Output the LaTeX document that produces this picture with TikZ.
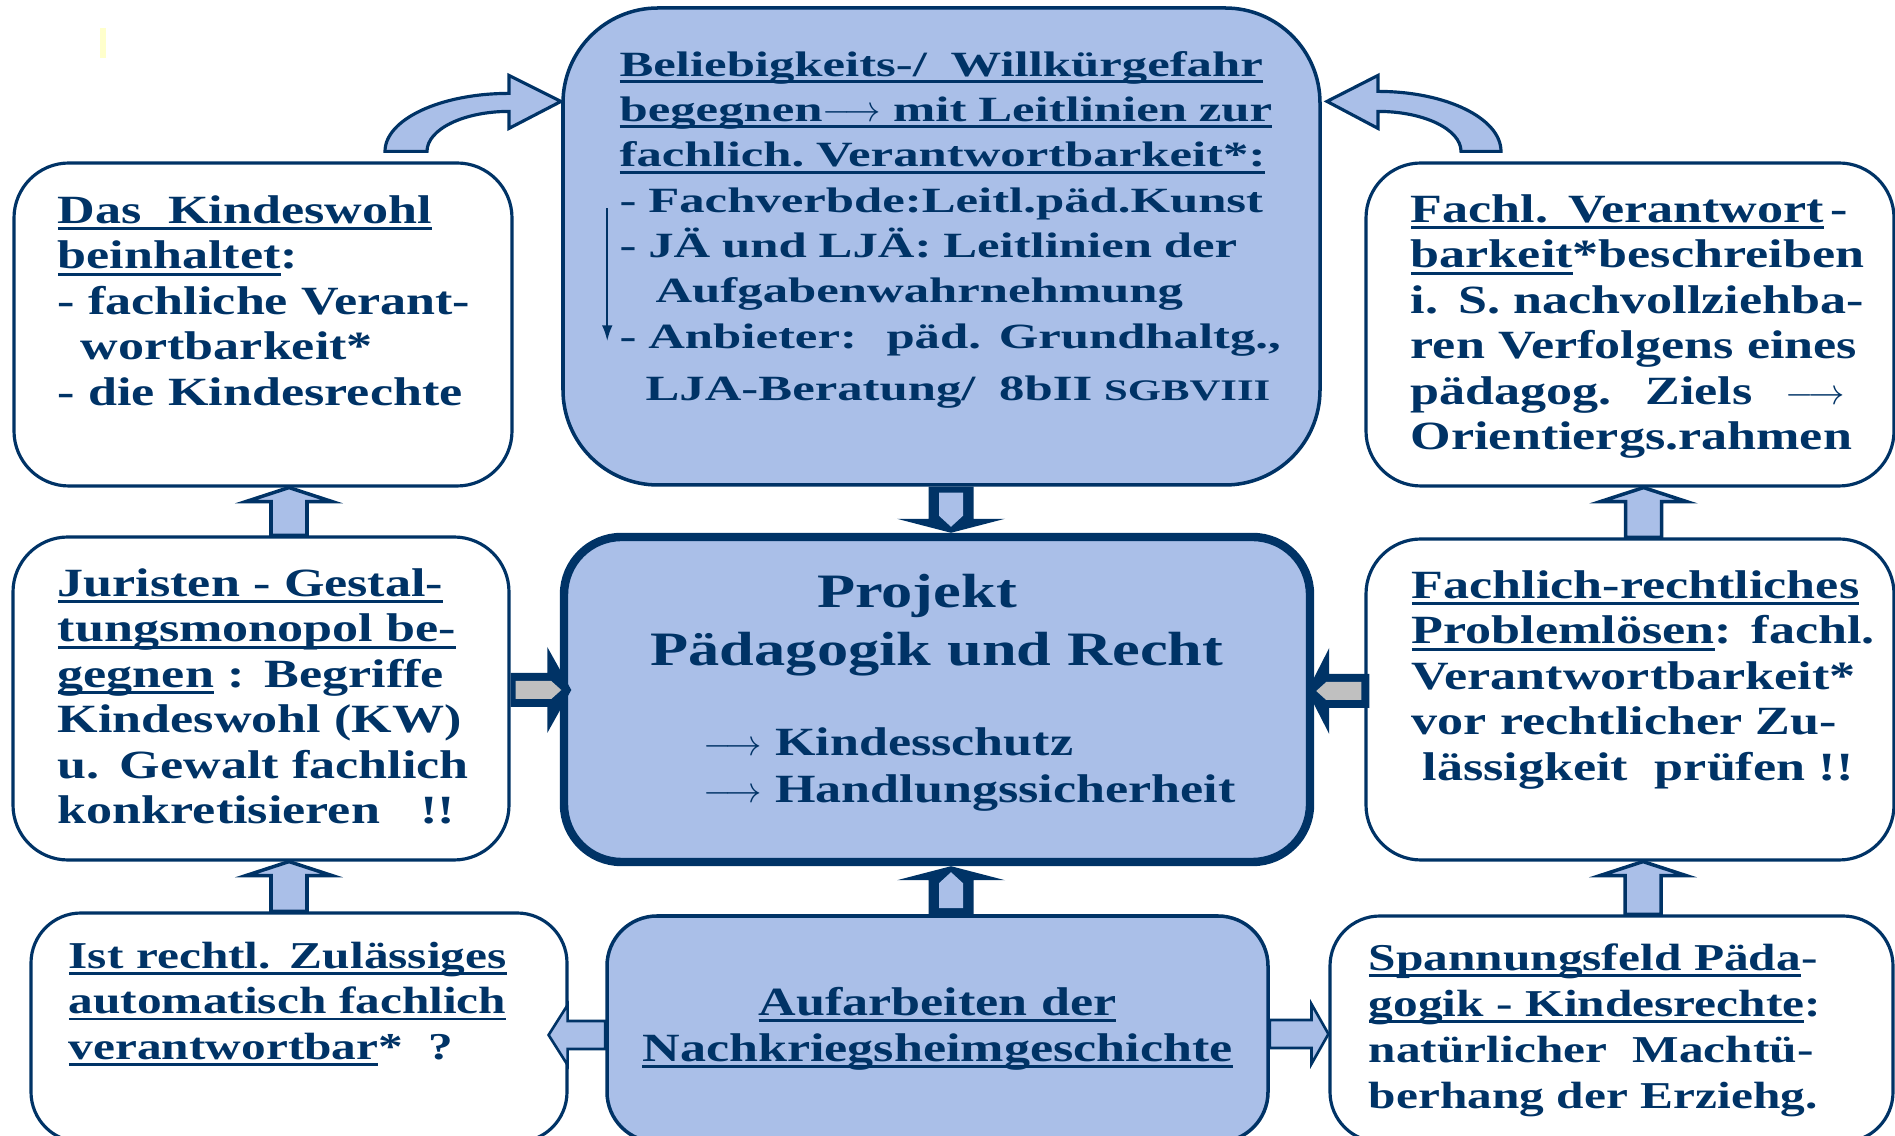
\documentclass[tikz,border=0pt]{standalone}
\usepackage{fontspec}
\setmainfont{Liberation Serif}[FakeStretch=1.3]
\newfontfamily\leitfont{Liberation Serif}[FakeStretch=1.43]
\usetikzlibrary{positioning,calc,arrows.meta}

\definecolor{darkblue}{RGB}{0,51,102}
\definecolor{paleblue}{RGB}{170,191,232}
\definecolor{arrowgray}{RGB}{192,192,192}
\definecolor{paleyellow}{RGB}{255,255,204}

% underline at a fixed depth below the baseline
\newsavebox{\ulnbox}
\newcommand{\uln}[1]{\leavevmode\sbox{\ulnbox}{#1}\rlap{\rule[-3.8pt]{\wd\ulnbox}{1.6pt}}\usebox{\ulnbox}}

% block arrows: style, tail, tip, half shaft, half head, head length
\newcommand{\vblock}[6]{%
  \path[#1] let \p1=(#2), \p2=(#3) in
    ({\x1-#4},\y1) -- ({\x1-#4},{\y2-(#6)}) -- ({\x1-#5},{\y2-(#6)}) -- (\x1,\y2)
    -- ({\x1+#5},{\y2-(#6)}) -- ({\x1+#4},{\y2-(#6)}) -- ({\x1+#4},\y1) -- cycle;}
\newcommand{\hblock}[6]{%
  \path[#1] let \p1=(#2), \p2=(#3) in
    (\x1,{\y1+#4}) -- ({\x2-(#6)},{\y1+#4}) -- ({\x2-(#6)},{\y1+#5}) -- (\x2,\y1)
    -- ({\x2-(#6)},{\y1-#5}) -- ({\x2-(#6)},{\y1-#4}) -- (\x1,{\y1-#4}) -- cycle;}

\begin{document}
\begin{tikzpicture}[
    box/.style={draw=darkblue, line width=1.8pt, fill=white, rounded corners=1.1cm},
    bluebox/.style={box, fill=paleblue},
    txt/.style={text=darkblue, inner sep=0pt, align=left, text width=12cm,
        font=\bfseries\fontsize{22.8}{25.9}\selectfont},
    sidearrow/.style={draw=darkblue, fill=paleblue, line width=2pt},
    darkpart/.style={fill=darkblue},
    graypart/.style={fill=arrowgray},
    bluepart/.style={fill=paleblue},
    lowarrow/.style={draw=darkblue, fill=paleblue, line width=1.5pt},
    bentarrow/.style={draw=darkblue, fill=paleblue, line width=1.8pt}
]
    \useasboundingbox (0,0) rectangle (37.9,22.72);
    \fill[paleyellow] (2.0,21.56) rectangle (2.12,22.16);

    % boxes
    \node[box, minimum width=9.96cm, minimum height=6.46cm] (kw) at (5.26,16.23) {};
    \node[bluebox, rounded corners=1.9cm, line width=2pt, minimum width=15.14cm, minimum height=9.54cm] (leit) at (18.83,17.79) {};
    \node[box, minimum width=10.56cm, minimum height=6.46cm] (orient) at (32.6,16.23) {};
    \node[box, minimum width=9.92cm, minimum height=6.46cm] (jur) at (5.22,8.75) {};
    \node[bluebox, rounded corners=1.15cm, line width=4.8pt, minimum width=14.92cm, minimum height=6.5cm] (proj) at (18.74,8.73) {};
    \node[box, minimum width=10.56cm, minimum height=6.42cm] (prob) at (32.6,8.73) {};
    \node[box, rounded corners=1cm, minimum width=10.72cm, minimum height=4.58cm] (zul) at (5.98,2.17) {};
    \node[bluebox, rounded corners=1cm, line width=2pt, minimum width=13.22cm, minimum height=4.52cm] (aufarb) at (18.75,2.14) {};
    \node[box, rounded corners=1cm, minimum width=11.26cm, minimum height=4.52cm] (spann) at (32.23,2.14) {};

    % texts
    \node[txt, below right=1.24cm and 0.9cm of kw.north west, anchor=base west] (kwtext)
        {\uln{Das~ Kindeswohl}\\
         \uln{beinhaltet}:\\
         - fachliche Verant-\\
         \hspace*{0.46cm}wortbarkeit*\\
         - die Kindesrechte};
    \node[txt, text width=15.5cm, font=\leitfont\bfseries\fontsize{20.2}{25.8}\selectfont,
        below right=1.4cm and 1.16cm of leit.north west, anchor=base west] (leittext)
        {\uln{Beliebigkeits-/~ Willkürgefahr}\\
         \uln{begegnen$\longrightarrow$ mit Leitlinien zur}\\
         \uln{fachlich.~Verantwortbarkeit*:}\\
         - Fachverbde:Leitl.päd.Kunst\\
         - JÄ und LJÄ: Leitlinien der\\
         \hspace*{0.72cm}Aufgabenwahrnehmung\\
         - Anbieter:~ päd. Grundhaltg.,\\[0.13cm]
         \hspace*{0.52cm}LJA-Beratung/~ 8bII {\fontsize{17}{20}\selectfont SGBVIII}};
    \draw[darkblue, line width=1.3pt, -{Latex[length=9pt, width=6pt]}]
        ($(leit.north west)+(0.92,-4.04)$) -- ++(0,-2.66);
    \node[txt, below right=1.22cm and 0.92cm of orient.north west, anchor=base west] (orienttext)
        {\uln{Fachl. Verantwort}\,-\\
         \uln{barkeit}*beschreiben\\
         i. S. nachvollziehba-\\
         ren Verfolgens eines\\
         pädagog.~ Ziels \hspace{0.4cm}$\longrightarrow$\\
         Orientiergs.rahmen};
    \node[txt, below right=1.22cm and 0.92cm of jur.north west, anchor=base west] (jurtext)
        {\uln{Juristen - Gestal-}\\
         \uln{tungsmonopol be-}\\
         \uln{gegnen} : Begriffe\\
         Kindeswohl (KW)\\
         u. Gewalt fachlich\\
         konkretisieren~~ !!};
    \node[txt, align=center, text width=14cm, font=\bfseries\fontsize{27.3}{33}\selectfont,
        below=1.5cm of proj.north, anchor=base] (projtitle)
        {Projekt\rule{0.8cm}{0pt}\\Pädagogik und Recht};
    \node[txt, font=\bfseries\fontsize{22.8}{26.6}\selectfont,
        below right=4.46cm and 2.86cm of proj.north west, anchor=base west] (projsub)
        {$\longrightarrow$ Kindesschutz\\
         $\longrightarrow$ Handlungssicherheit};
    \node[txt, below right=1.22cm and 0.94cm of prob.north west, anchor=base west] (probtext)
        {\uln{Fachlich-rechtliches}\\
         \uln{Problemlösen}: fachl.\\
         Verantwortbarkeit*\\
         vor rechtlicher Zu-\\
         \hspace*{0.22cm}lässigkeit~ prüfen !!};
    \node[txt, font=\bfseries\fontsize{21.6}{25.8}\selectfont,
        below right=1.14cm and 0.78cm of zul.north west, anchor=base west] (zultext)
        {\uln{Ist rechtl. Zulässiges}\\
         \uln{automatisch fachlich}\\
         \uln{verantwortbar}*~ ?};
    \node[txt, align=center, text width=13cm, font=\bfseries\fontsize{22.8}{26.2}\selectfont,
        below=2.02cm of aufarb.north, anchor=base] (aufarbtext)
        {\uln{Aufarbeiten der}\\
         \uln{Nachkriegsheimgeschichte}};
    \node[txt, font=\bfseries\fontsize{21.6}{26.2}\selectfont,
        below right=1.12cm and 0.8cm of spann.north west, anchor=base west] (spanntext)
        {\uln{Spannungsfeld Päda}-\\
         \uln{gogik - Kindesrechte}:\\
         natürlicher~ Machtü-\\
         berhang der Erziehg.};

    % bent arrows into the top box
    \draw[bentarrow] ($(kw.north)+(2.44,0.2)$)
        arc[start angle=180, end angle=90, x radius=2.48, y radius=1.16]
        -- ++(0,0.36) -- ++(1.04,-0.52) -- ++(-1.04,-0.54) -- ++(0,0.34)
        arc[start angle=90, end angle=180, x radius=1.64, y radius=0.8] -- cycle;
    \draw[bentarrow] ($(orient.north)+(-2.58,0.2)$)
        arc[start angle=0, end angle=90, x radius=2.46, y radius=1.2]
        -- ++(0,0.32) -- ++(-1.02,-0.52) -- ++(1.02,-0.54) -- ++(0,0.34)
        arc[start angle=90, end angle=0, x radius=1.66, y radius=0.8] -- cycle;

    % block arrows
    \foreach \lo/\hi/\dx in {jur/kw/0.56, zul/jur/-0.2, prob/orient/0.27, spann/prob/0.63} {
        \vblock{sidearrow}{$(\lo.north)+(\dx,0)$}{\hi.south}{0.36cm}{0.86cm}{0.28cm}
    }
    % into the project box
    \vblock{darkpart}{$(leit.south)+(0.19,0)$}{proj.north}{0.45cm}{1.08cm}{-0.28cm}
    \vblock{bluepart}{$(leit.south)+(0.19,-0.12)$}{$(proj.north)+(0,0.12)$}{0.24cm}{0.24cm}{-0.22cm}
    \vblock{darkpart}{$(aufarb.north)+(0.27,0)$}{proj.south}{0.45cm}{1.08cm}{0.28cm}
    \vblock{bluepart}{$(aufarb.north)+(0.27,0.12)$}{$(proj.south)+(0,-0.12)$}{0.24cm}{0.24cm}{0.22cm}
    \hblock{darkpart}{$(jur.east)+(0,0.17)$}{$(proj.west)+(0.23,0)$}{0.34cm}{0.86cm}{0.48cm}
    \hblock{graypart}{$(jur.east)+(0.1,0.17)$}{$(proj.west)+(0.03,0)$}{0.18cm}{0.18cm}{0.2cm}
    \hblock{darkpart}{$(prob.west)+(0.1,0.17)$}{$(proj.east)+(-0.14,0)$}{0.34cm}{0.86cm}{-0.44cm}
    \hblock{graypart}{$(prob.west)+(-0.06,0.17)$}{$(proj.east)+(0.04,0)$}{0.18cm}{0.18cm}{-0.2cm}
    % out of the bottom box
    \hblock{lowarrow}{$(aufarb.west)+(0,-0.12)$}{$(zul.east)+(-0.4,0)$}{0.28cm}{0.6cm}{-0.38cm}
    \hblock{lowarrow}{$(aufarb.east)+(0,-0.1)$}{spann.west}{0.28cm}{0.6cm}{0.34cm}
\end{tikzpicture}
\end{document}
